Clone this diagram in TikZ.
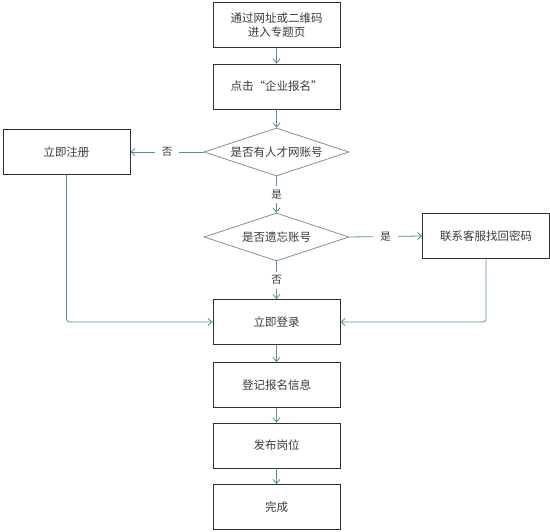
\documentclass[tikz,border=0pt]{standalone}
\usepackage{fontspec}
\setmainfont{Noto Sans CJK SC}
\usetikzlibrary{shapes.geometric,arrows.meta}
\definecolor{linkc}{HTML}{4E9299}
\definecolor{txtc}{HTML}{3A3A3A}
\definecolor{boxc}{HTML}{2E2E2E}
\definecolor{dmc}{HTML}{8C8C8C}
\tikzset{
  stepbox/.style={draw=boxc, line width=0.9pt, minimum width=127pt, minimum height=45pt, inner sep=0pt, text=txtc, font=\fontsize{11.5}{14}\selectfont, align=center},
  decide/.style={diamond, draw=dmc, line width=0.8pt, minimum width=145pt, minimum height=48pt, aspect=3, inner sep=0pt, text=txtc, font=\fontsize{11.5}{14}\selectfont},
  link/.style={draw=linkc, line width=0.8pt, -{Straight Barb[length=4pt,width=7pt]}},
  lab/.style={fill=white, text=txtc, font=\fontsize{10.5}{12}\selectfont, inner xsep=7pt, inner ysep=4pt}
}
\begin{document}
\begin{tikzpicture}[x=1pt,y=-1pt]
\useasboundingbox (0,0) rectangle (550,532);
\node[stepbox] (a) at (276.5,25) {通过网址或二维码\\进入专题页};
\node[stepbox] (b) at (276.5,86.5) {点击“企业报名”};
\node[decide] (d1) at (276.5,152) {是否有人才网账号};
\node[stepbox] (reg) at (66.5,152) {立即注册};
\node[decide] (d2) at (276.5,237) {是否遗忘账号};
\node[stepbox] (rec) at (486,236) {联系客服找回密码};
\node[stepbox] (login) at (276.5,322) {立即登录};
\node[stepbox] (info) at (276.5,385) {登记报名信息};
\node[stepbox] (post) at (276.5,445.5) {发布岗位};
\node[stepbox] (done) at (276.5,507) {完成};
\draw[link] (a) -- (b);
\draw[link] (b) -- (d1);
\draw[link] (d1.west) -- node[lab, pos=0.5]{否} (reg.east);
\draw[link] (d1.south) -- node[lab, pos=0.5]{是} (d2.north);
\draw[link] (d2.east) -- node[lab, pos=0.5]{是} (rec.west);
\draw[link] (d2.south) -- node[lab, pos=0.5]{否} (login.north);
\draw[link, rounded corners=3pt] (reg.south) |- (login.west);
\draw[link, rounded corners=3pt] (rec.south) |- (login.east);
\draw[link] (login) -- (info);
\draw[link] (info) -- (post);
\draw[link] (post) -- (done);
\end{tikzpicture}
\end{document}
